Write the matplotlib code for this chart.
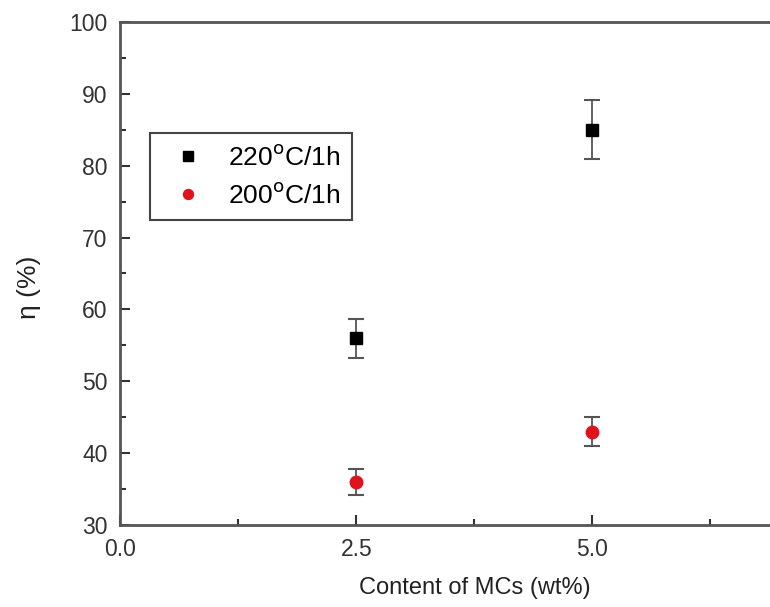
import matplotlib.pyplot as plt
from matplotlib.ticker import MultipleLocator

plt.rcParams['font.family'] = ['Liberation Sans', 'DejaVu Sans']

# datos
contenido = [2.5, 5.0]
eta_220 = [56, 85]
err_220 = [2.7, 4.1]
eta_200 = [36, 43]
err_200 = [1.8, 2.0]
xticks = [0.0, 2.5, 5.0]

fig = plt.figure(figsize=(7.7, 6.07), dpi=100)
ax = fig.add_axes([0.156, 0.135, 0.92, 0.829])

c1 = ax.errorbar(contenido, eta_220, yerr=err_220, fmt='s', color='black',
                 ms=9, ecolor='#555555', elinewidth=1.3, capsize=6, capthick=1.5)
c2 = ax.errorbar(contenido, eta_200, yerr=err_200, fmt='o', color='#e0121c',
                 ms=9, ecolor='#555555', elinewidth=1.3, capsize=6, capthick=1.5)

ax.set_xlim(0, 7.5)
ax.set_ylim(30, 100)
ax.set_xticks(xticks)
ax.xaxis.set_minor_locator(MultipleLocator(1.25))
ax.yaxis.set_major_locator(MultipleLocator(10))
ax.yaxis.set_minor_locator(MultipleLocator(5))
ax.xaxis.set_major_formatter(plt.FormatStrFormatter('%.1f'))

ax.tick_params(which='both', direction='in', top=False, right=False,
               labelsize=16.5, colors='#333333', width=1.5)
ax.tick_params(which='major', length=7)
ax.tick_params(which='minor', length=4)
ax.tick_params(axis='x', pad=9)
ax.tick_params(axis='y', pad=9)
for s in ax.spines.values():
    s.set_color('#555555')
    s.set_linewidth(2)

ax.set_xlabel('Content of MCs (wt%)', fontsize=17, color='#222222', labelpad=12)
ax.set_ylabel('η (%)', fontsize=19, color='#222222')
ax.yaxis.set_label_coords(-0.112, 0.473)

leg = ax.legend([c1[0], c2[0]], ['220$^\\mathrm{o}$C/1h', '200$^\\mathrm{o}$C/1h'],
                loc='upper left', bbox_to_anchor=(0.042, 0.779), borderaxespad=0,
                fontsize=19, fancybox=False, framealpha=1, edgecolor='#444444',
                handletextpad=0.5, borderpad=0.45, handlelength=2.0,
                labelspacing=0.5, markerscale=0.8)
leg.get_frame().set_linewidth(1.5)

plt.savefig('out.png', dpi=100)
